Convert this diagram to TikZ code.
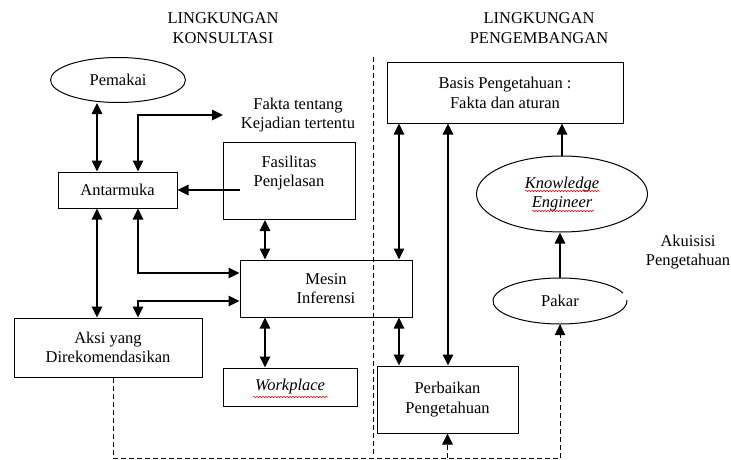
\documentclass[tikz,border=0pt]{standalone}
\usepackage{fontspec}
\setmainfont{Liberation Serif}
\newfontfamily\diagfont{Liberation Serif}
\usetikzlibrary{arrows.meta,shapes.geometric,calc,decorations.pathmorphing}
\begin{document}
\begin{tikzpicture}[x=1pt,y=-1pt,
  txt/.style={font=\diagfont\fontsize{16.5pt}{19.5pt}\selectfont},
  every node/.style={txt, align=center, inner sep=0pt},
  itx/.style={font=\diagfont\fontsize{16.5pt}{19.5pt}\selectfont\itshape},
  box/.style={draw, line width=1pt, rectangle},
  oval/.style={draw, line width=1pt, ellipse},
  con/.style={line width=1.1pt},
  tip/.tip={Triangle[length=11pt,width=10.5pt]},
  arr/.style={con, -tip},
  dbl/.style={con, tip-tip},
  dsh/.style={dash pattern=on 5pt off 3pt},
  squig/.style={red, line width=0.5pt, decorate, decoration={snake, amplitude=0.8pt, segment length=3pt}}]
\useasboundingbox (0,0) rectangle (731,460);

% titles
\node (t1) at (223,28) {LINGKUNGAN\\KONSULTASI};
\node (t2) at (539,28) {LINGKUNGAN\\PENGEMBANGAN};

% left side
\node[oval, minimum width=135pt, minimum height=45pt] (pem) at (118,80) {Pemakai};
\node (fakta) at (298,115) {Fakta tentang\\Kejadian tertentu};
\node[box, minimum width=119pt, minimum height=36pt] (ant) at (117.5,190) {Antarmuka};
\node[box, minimum width=132pt, minimum height=77pt] (fas) at (289,181) {};
\node (fastxt) at (289,173) {Fasilitas\\Penjelasan};
\node[box, minimum width=172pt, minimum height=57pt] (mes) at (326,288.5) {Mesin\\Inferensi};
\node[box, minimum width=188pt, minimum height=59pt] (aksi) at (108,347.5) {Aksi yang\\Direkomendasikan};
\node[box, itx, minimum width=134pt, minimum height=38pt] (work) at (290,387) {Workplace};

% right side
\node[box, minimum width=236pt, minimum height=60pt] (basis) at (505,93) {Basis Pengetahuan :\\Fakta dan aturan};
\node[oval, itx, minimum width=171pt, minimum height=76pt] (ke) at (562,194) {Knowledge\\Engineer};
\node[ellipse, minimum width=134pt, minimum height=46pt] (pakar) at (560,301) {Pakar};
\draw[line width=1pt] ($(pakar.center)+(20:67pt and 23pt)$) arc[start angle=20,end angle=362,x radius=67pt,y radius=23pt];
\node (akuisisi) at (688,252) {Akuisisi\\Pengetahuan};
\node[box, minimum width=141pt, minimum height=67pt] (perb) at (447.5,399.5) {Perbaikan\\Pengetahuan};

% spell-check squiggles
\draw[squig] (253,397) -- (328,397);
\draw[squig] (525,191) -- (600,191);
\draw[squig] (532,211) -- (594,211);

% helper coordinates
\coordinate (cA) at (97,0);
\coordinate (cB) at (138,0);
\coordinate (cC) at (265,0);
\coordinate (cD) at (399,0);
\coordinate (cE) at (448,0);
\coordinate (cG) at (113,0);
\coordinate (yFak) at (0,115);
\coordinate (yM1) at (0,273);
\coordinate (yM2) at (0,301);
\coordinate (yBot) at (0,458);
\coordinate (fk) at (223,115);
\coordinate (fasin) at ([xshift=17pt]fas.west);
\coordinate (sepT) at (373,57);
\coordinate (sepB) at (373,456);

% separator
\draw[dsh, line width=1pt] (sepT) -- (sepB);

% connectors
\draw[dbl] (pem.south -| cA) -- (ant.north -| cA);
\draw[dbl] (ant.north -| cB) -- (cB |- yFak) -- (fk);
\draw[arr] (fasin |- ant.east) -- (ant.east);
\draw[dbl] (fas.south -| cC) -- (mes.north -| cC);
\draw[dbl] (ant.south -| cA) -- (aksi.north -| cA);
\draw[dbl] (ant.south -| cB) -- (cB |- yM1) -- (mes.west |- yM1);
\draw[dbl] (mes.west |- yM2) -- (cB |- yM2) -- (aksi.north -| cB);
\draw[dbl] (mes.south -| cC) -- (work.north -| cC);
\draw[dbl] (basis.south -| cD) -- (mes.north -| cD);
\draw[dbl] (mes.south -| cD) -- (perb.north -| cD);
\draw[dbl] (basis.south -| cE) -- (perb.north -| cE);
\draw[arr] (ke.north) -- (basis.south -| ke.north);
\draw[arr] (pakar.north) -- (pakar.north |- ke.south);
\draw[arr, dsh, line width=1pt] (aksi.south -| cG) -- (cG |- yBot) -- (pakar.south |- yBot) -- (pakar.south);
\draw[arr, dsh, line width=1pt] (perb.south |- yBot) -- (perb.south);
\end{tikzpicture}
\end{document}
